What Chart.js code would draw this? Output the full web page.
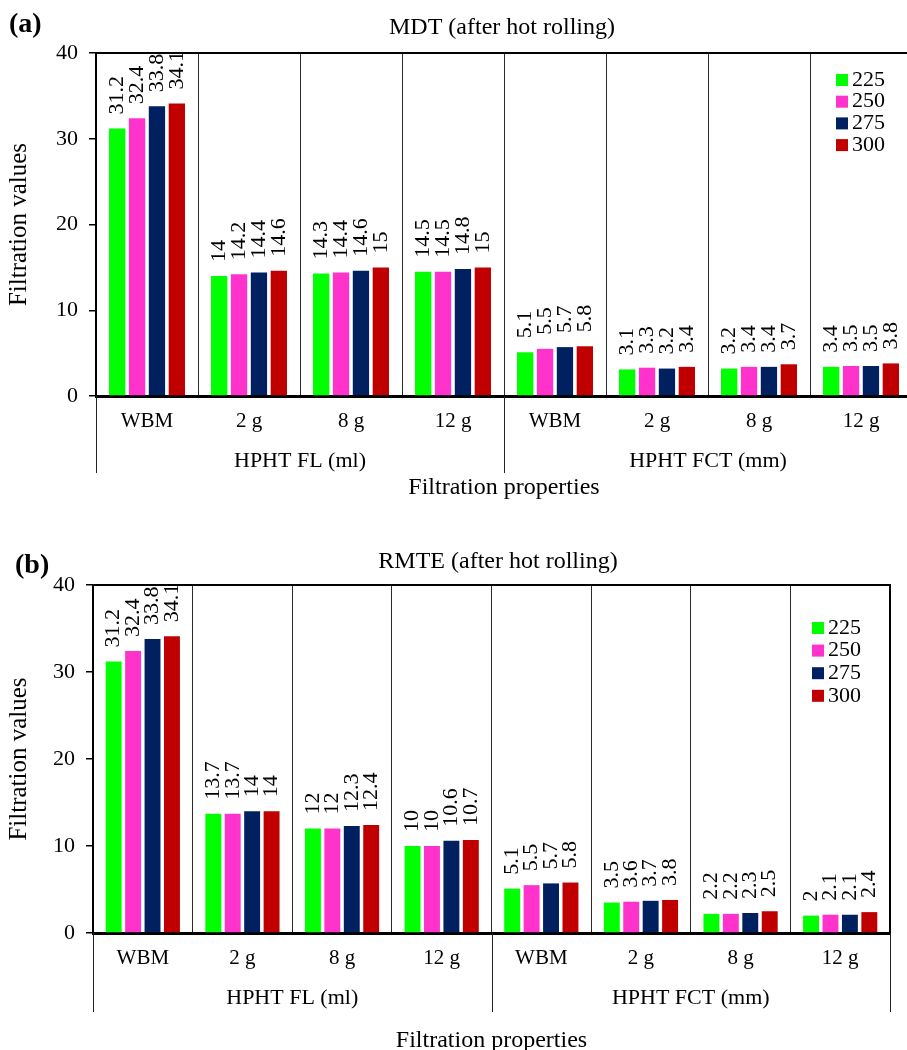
<!DOCTYPE html>
<html>
<head>
<meta charset="utf-8">
<script src="https://cdn.jsdelivr.net/npm/chart.js@4.4.0/dist/chart.umd.min.js"></script>
<style>
html, body { margin: 0; padding: 0; background: #fff; overflow: hidden; width: 907px; height: 1050px; }
.panel { position: absolute; left: 0; }
</style>
</head>
<body>
<div class="panel" style="top:0"><canvas id="chartA" width="920" height="515"></canvas></div>
<div class="panel" style="top:520px"><canvas id="chartB" width="907" height="535"></canvas></div>
<script>
// categories and groups
const categories = ['WBM', '2 g', '8 g', '12 g', 'WBM', '2 g', '8 g', '12 g'];
const groups = ['HPHT FL (ml)', 'HPHT FCT (mm)'];
const seriesLabels = ['225', '250', '275', '300'];
const seriesColors = ['#00ff00', '#ff33cc', '#002060', '#c00000'];
const yTicks = [0, 10, 20, 30, 40];

// (a) MDT after hot rolling
const mdt225 = [31.2, 14, 14.3, 14.5, 5.1, 3.1, 3.2, 3.4];
const mdt250 = [32.4, 14.2, 14.4, 14.5, 5.5, 3.3, 3.4, 3.5];
const mdt275 = [33.8, 14.4, 14.6, 14.8, 5.7, 3.2, 3.4, 3.5];
const mdt300 = [34.1, 14.6, 15, 15, 5.8, 3.4, 3.7, 3.8];

// (b) RMTE after hot rolling
const rmte225 = [31.2, 13.7, 12, 10, 5.1, 3.5, 2.2, 2];
const rmte250 = [32.4, 13.7, 12, 10, 5.5, 3.6, 2.2, 2.1];
const rmte275 = [33.8, 14, 12.3, 10.6, 5.7, 3.7, 2.3, 2.1];
const rmte300 = [34.1, 14, 12.4, 10.7, 5.8, 3.8, 2.5, 2.4];

const FONT = '"Liberation Serif", "Times New Roman", serif';

// extra drawing: borders, value labels, group axis, titles, legend
const panelDecor = {
  id: 'panelDecor',
  afterDatasetsDraw(chart, args, opts) {
    const ctx = chart.ctx;
    const a = chart.chartArea;
    // value labels, clipped to the plot
    ctx.save();
    ctx.beginPath();
    ctx.rect(a.left, a.top, a.right - a.left, a.bottom - a.top);
    ctx.clip();
    ctx.font = '22px ' + FONT;
    ctx.fillStyle = '#000';
    ctx.textAlign = 'left';
    ctx.textBaseline = 'middle';
    chart.data.datasets.forEach((ds, di) => {
      chart.getDatasetMeta(di).data.forEach((bar, i) => {
        ctx.save();
        ctx.translate(bar.x, bar.y - 14);
        ctx.rotate(-Math.PI / 2);
        ctx.fillText(String(ds.data[i]), 0, 0);
        ctx.restore();
      });
    });
    ctx.restore();
  },
  afterDraw(chart, args, opts) {
    const ctx = chart.ctx;
    const a = chart.chartArea;
    const xs = chart.scales.x;
    const n = chart.data.labels.length;
    const w = (xs.right - xs.left) / n;
    ctx.save();
    // top and right border
    ctx.strokeStyle = '#000';
    ctx.lineWidth = 2;
    ctx.beginPath();
    ctx.moveTo(a.left, a.top);
    ctx.lineTo(a.right, a.top);
    ctx.lineTo(a.right, a.bottom);
    ctx.stroke();
    // group separators below the axis
    ctx.lineWidth = 1;
    ctx.strokeStyle = '#222';
    const per = n / groups.length;
    for (let g = 0; g <= groups.length; g++) {
      const x = Math.round(xs.left + g * per * w) + 0.5;
      ctx.beginPath();
      ctx.moveTo(x, a.bottom);
      ctx.lineTo(x, a.bottom + opts.lineLen);
      ctx.stroke();
    }
    ctx.fillStyle = '#000';
    ctx.font = '22px ' + FONT;
    ctx.textAlign = 'center';
    ctx.textBaseline = 'middle';
    groups.forEach((g, gi) => {
      ctx.fillText(g, xs.left + (gi + 0.5) * per * w, a.bottom + opts.groupY);
    });
    // chart title and panel letter
    ctx.textBaseline = 'alphabetic';
    ctx.font = '24px ' + FONT;
    ctx.fillText(opts.title, opts.titleX, opts.titleY);
    ctx.textAlign = 'left';
    ctx.font = 'bold 28px ' + FONT;
    ctx.fillText(opts.letter, opts.letterX, opts.letterY);
    // legend
    ctx.font = '22px ' + FONT;
    ctx.textBaseline = 'middle';
    chart.data.datasets.forEach((ds, di) => {
      const y = opts.legendY + di * opts.legendGap;
      ctx.fillStyle = ds.backgroundColor;
      ctx.fillRect(opts.legendX, y - 6, 12, 12);
      ctx.fillStyle = '#000';
      ctx.fillText(ds.label, opts.legendX + 16, y);
    });
    ctx.restore();
  }
};

function makeChart(id, values, geo) {
  const datasets = values.map((v, i) => ({
    label: seriesLabels[i],
    data: v,
    backgroundColor: seriesColors[i],
    borderWidth: 0,
    categoryPercentage: 0.78,
    barPercentage: 0.82
  }));
  return new Chart(document.getElementById(id), {
    type: 'bar',
    data: { labels: categories, datasets: datasets },
    options: {
      responsive: false,
      animation: false,
      layout: { padding: { left: 0, top: geo.top, right: geo.right, bottom: 0 } },
      plugins: {
        legend: { display: false },
        tooltip: { enabled: false },
        panelDecor: geo
      },
      scales: {
        x: {
          grid: { offset: true, color: '#2a2a2a', lineWidth: 1, drawTicks: false },
          border: { display: true, color: '#000', width: 3 },
          ticks: { color: '#000', font: { family: FONT, size: 21 }, padding: 13, maxRotation: 0, autoSkip: false },
          title: { display: true, text: 'Filtration properties', color: '#000',
                   font: { family: FONT, size: 24 }, padding: { bottom: geo.titlePad } },
          afterFit: s => { s.height = geo.xHeight; }
        },
        y: {
          min: 0, max: 40,
          afterBuildTicks: s => { s.ticks = yTicks.map(v => ({ value: v })); },
          ticks: { color: '#000', font: { family: FONT, size: 22 }, padding: 11 },
          grid: { drawOnChartArea: false, color: '#000', tickLength: 7, lineWidth: 1.5 },
          border: { display: true, color: '#000', width: 2 },
          title: { display: true, text: 'Filtration values', color: '#000',
                   font: { family: FONT, size: 25 }, padding: { top: 4 } },
          afterFit: s => { s.width = geo.left; }
        }
      }
    },
    plugins: [panelDecor]
  });
}

makeChart('chartA', [mdt225, mdt250, mdt275, mdt300], {
  top: 53, right: 8, left: 96, xHeight: 119, titlePad: 13,
  lineLen: 77, groupY: 65,
  title: 'MDT (after hot rolling)', titleX: 502, titleY: 34,
  letter: '(a)', letterX: 9, letterY: 32,
  legendX: 836, legendY: 80, legendGap: 21.7
});

makeChart('chartB', [rmte225, rmte250, rmte275, rmte300], {
  top: 65, right: 17, left: 93, xHeight: 122, titlePad: 0,
  lineLen: 79, groupY: 65,
  title: 'RMTE (after hot rolling)', titleX: 498, titleY: 48,
  letter: '(b)', letterX: 15, letterY: 53,
  legendX: 812, legendY: 108, legendGap: 22.6
});
</script>
</body>
</html>
